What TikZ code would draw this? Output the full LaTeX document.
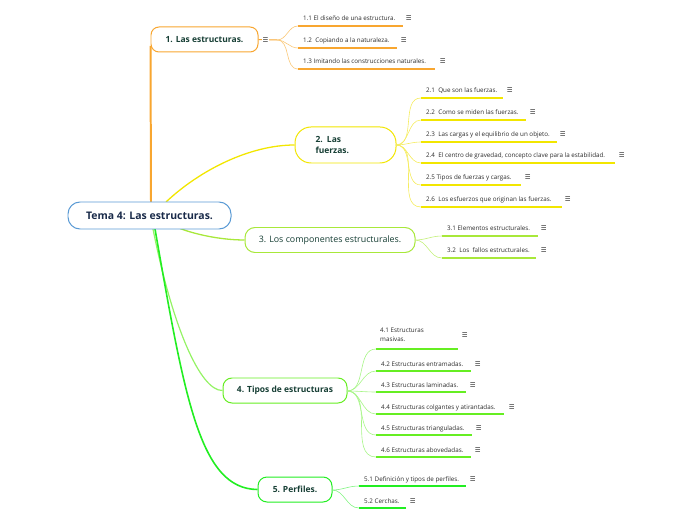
\documentclass[tikz,border=0pt]{standalone}
\usepackage{fontspec}
\setmainfont{Open Sans}
\newfontfamily\symf{DejaVu Sans}
\definecolor{cblue}{HTML}{5B9BD5}
\definecolor{corange}{HTML}{F8A630}
\definecolor{forange}{HTML}{FAC878}
\definecolor{cyellow}{HTML}{F2E600}
\definecolor{fyellow}{HTML}{F5EC60}
\definecolor{clime}{HTML}{A8E83A}
\definecolor{flime}{HTML}{C3F07A}
\definecolor{cgreen}{HTML}{66EE22}
\definecolor{fgreen}{HTML}{A6F586}
\definecolor{cbright}{HTML}{22EE22}
\definecolor{fbright}{HTML}{80F580}
\definecolor{ntext}{HTML}{173F35}
\definecolor{ctxt}{HTML}{2B2B2B}
\definecolor{navy}{HTML}{1A2B4A}
\tikzset{
  topic/.style={draw=#1, fill=white, line width=1pt, inner sep=0pt, align=center, text=ntext},
  tfont/.style={font=\bfseries\fontsize{8.5}{9.5}\selectfont},
  ctext/.style={font=\fontsize{6.3}{7}\selectfont, text=ctxt, anchor=base west, inner sep=0pt},
  icon/.style={font=\symf\fontsize{6.5}{6.5}\selectfont, text=ctxt, inner sep=0.6pt, anchor=base west},
  ul/.style={line width=2bp},
  fan/.style={line width=0.6pt},
}
\newcommand\mmkid[7]{%
  \coordinate (#1) at (#3,#4);
  \draw[ul,draw=#2] (#1) -- (#5,#4);
  \node[ctext] (#1t) at ({#3+5},{#4-5}) {#7};
  \node[icon] (#1i) at ({#6-3},{#4-5}) {☰};
}
\begin{document}
\begin{tikzpicture}[x=1bp,y=-1bp]
\useasboundingbox (0,0) rectangle (696,520);

% main topics
\node[topic=corange, rounded corners=8bp, minimum width=107bp, minimum height=25bp, tfont] (t1) at (204.5,39.5) {1. Las estructuras.};
\node[topic=cyellow, rounded corners=16bp, minimum width=101bp, minimum height=36bp,
  text width=60bp, align=left, font=\bfseries\fontsize{8.5}{12}\selectfont] (t2) at (345.5,145) {2. Las\\fuerzas.};
\node[topic=clime, rounded corners=10bp, minimum width=170bp, minimum height=25bp,
  font=\fontsize{8.9}{10}\selectfont] (t3) at (330,240) {3. Los componentes estructurales.};
\node[topic=cgreen, rounded corners=9bp, minimum width=124bp, minimum height=25bp, tfont] (t4) at (285,390.5) {4. Tipos de estructuras};
\node[topic=cbright, rounded corners=9bp, minimum width=74bp, minimum height=25bp, tfont] (t5) at (295,489.5) {5. Perfiles.};

% main connectors
\coordinate (c1) at (151,202);
\coordinate (c2) at (166,202);
\coordinate (c3) at (180,228.5);
\coordinate (c4) at (153,229);
\coordinate (c5) at (155,229);
\draw[corange, line width=2pt] (c1) -- (t1.west |- 0,46);
\draw[cyellow, line width=1.3pt] (c2) .. controls (200,170) and (250,145) .. (t2.west);
\draw[clime, line width=1.3pt] (c3) .. controls (200,236) and (225,240) .. (t3.west);
\draw[cgreen!70!white, line width=1.2pt] (c4) .. controls (172,325) and (200,391) .. (t4.west);
\draw[cbright, line width=1.6pt] (c5) .. controls (185,400) and (200,489) .. (t5.west);

% central
\node[topic=cblue, rounded corners=12bp, minimum width=163bp, minimum height=27bp,
  font=\bfseries\fontsize{10.5}{11}\selectfont, text=navy] (c) at (149.5,215.5) {Tema 4: Las estructuras.};

% branch 1
\coordinate (h1) at (277,40);
\draw[corange, line width=1pt] (t1.east) -- (h1);
\node[icon, anchor=center, fill=white] (t1i) at (265.5,40) {☰};
\mmkid{k11}{corange}{298}{26}{403}{408}{1.1 El diseño de una estructura.}
\mmkid{k12}{corange}{298}{48}{397}{403}{1.2\ \ Copiando a la naturaleza.}
\mmkid{k13}{corange}{298}{69}{435}{442}{1.3 Imitando las construcciones naturales.}
\foreach \k in {k11,k12,k13} \draw[fan,forange] (h1) to[out=0,in=180] (\k);

% branch 2
\coordinate (h2) at (396,145);
\mmkid{k21}{cyellow}{421}{98}{503}{509}{2.1\ \ Que son las fuerzas.}
\mmkid{k22}{cyellow}{421}{120}{526}{532}{2.2\ \ Como se miden las fuerzas.}
\mmkid{k23}{cyellow}{421}{142}{557}{562}{2.3\ \ Las cargas y el equilibrio de un objeto.}
\mmkid{k24}{cyellow}{421}{163}{615}{621}{2.4\ \ El centro de gravedad, concepto clave para la estabilidad.}
\mmkid{k25}{cyellow}{421}{185}{521}{527}{2.5 Tipos de fuerzas y cargas.}
\mmkid{k26}{cyellow}{421}{207}{562}{567}{2.6\ \ Los esfuerzos que originan las fuerzas.}
\foreach \k in {k21,k22,k23,k24,k25,k26} \draw[fan,fyellow] (h2) to[out=0,in=180] (\k);

% branch 3
\coordinate (h3) at (415,240);
\mmkid{k31}{clime}{442}{236}{538}{543}{3.1 Elementos estructurales.}
\mmkid{k32}{clime}{442}{258}{536}{543}{3.2\ \ Los\ \ fallos estructurales.}
\foreach \k in {k31,k32} \draw[fan,flime] (h3) to[out=0,in=180] (\k);

% branch 4
\coordinate (h4) at (347,391);
\coordinate (k41) at (376,349);
\draw[ul,draw=cgreen] (k41) -- (458,349);
\node[ctext, anchor=north west, align=left, font=\fontsize{6.3}{9}\selectfont] (k41t) at (380,328) {4.1 Estructuras\\masivas.};
\node[icon] (k41i) at (461,337) {☰};
\mmkid{k42}{cgreen}{376}{371}{471}{477}{4.2 Estructuras entramadas.}
\mmkid{k43}{cgreen}{376}{392}{466}{472}{4.3 Estructuras laminadas.}
\mmkid{k44}{cgreen}{376}{414}{504}{511}{4.4 Estructuras colgantes y atirantadas.}
\mmkid{k45}{cgreen}{376}{435}{472}{478}{4.5 Estructuras trianguladas.}
\mmkid{k46}{cgreen}{376}{457}{471}{477}{4.6 Estructuras abovedadas.}
\foreach \k in {k41,k42,k43,k44,k45,k46} \draw[fan,fgreen] (h4) to[out=0,in=180] (\k);

% branch 5
\coordinate (h5) at (332,490);
\mmkid{k51}{cbright}{359}{486}{466}{472}{5.1 Definición y tipos de perfiles.}
\mmkid{k52}{cbright}{359}{508}{406}{412}{5.2 Cerchas.}
\foreach \k in {k51,k52} \draw[fan,fbright] (h5) to[out=0,in=180] (\k);
\end{tikzpicture}
\end{document}
